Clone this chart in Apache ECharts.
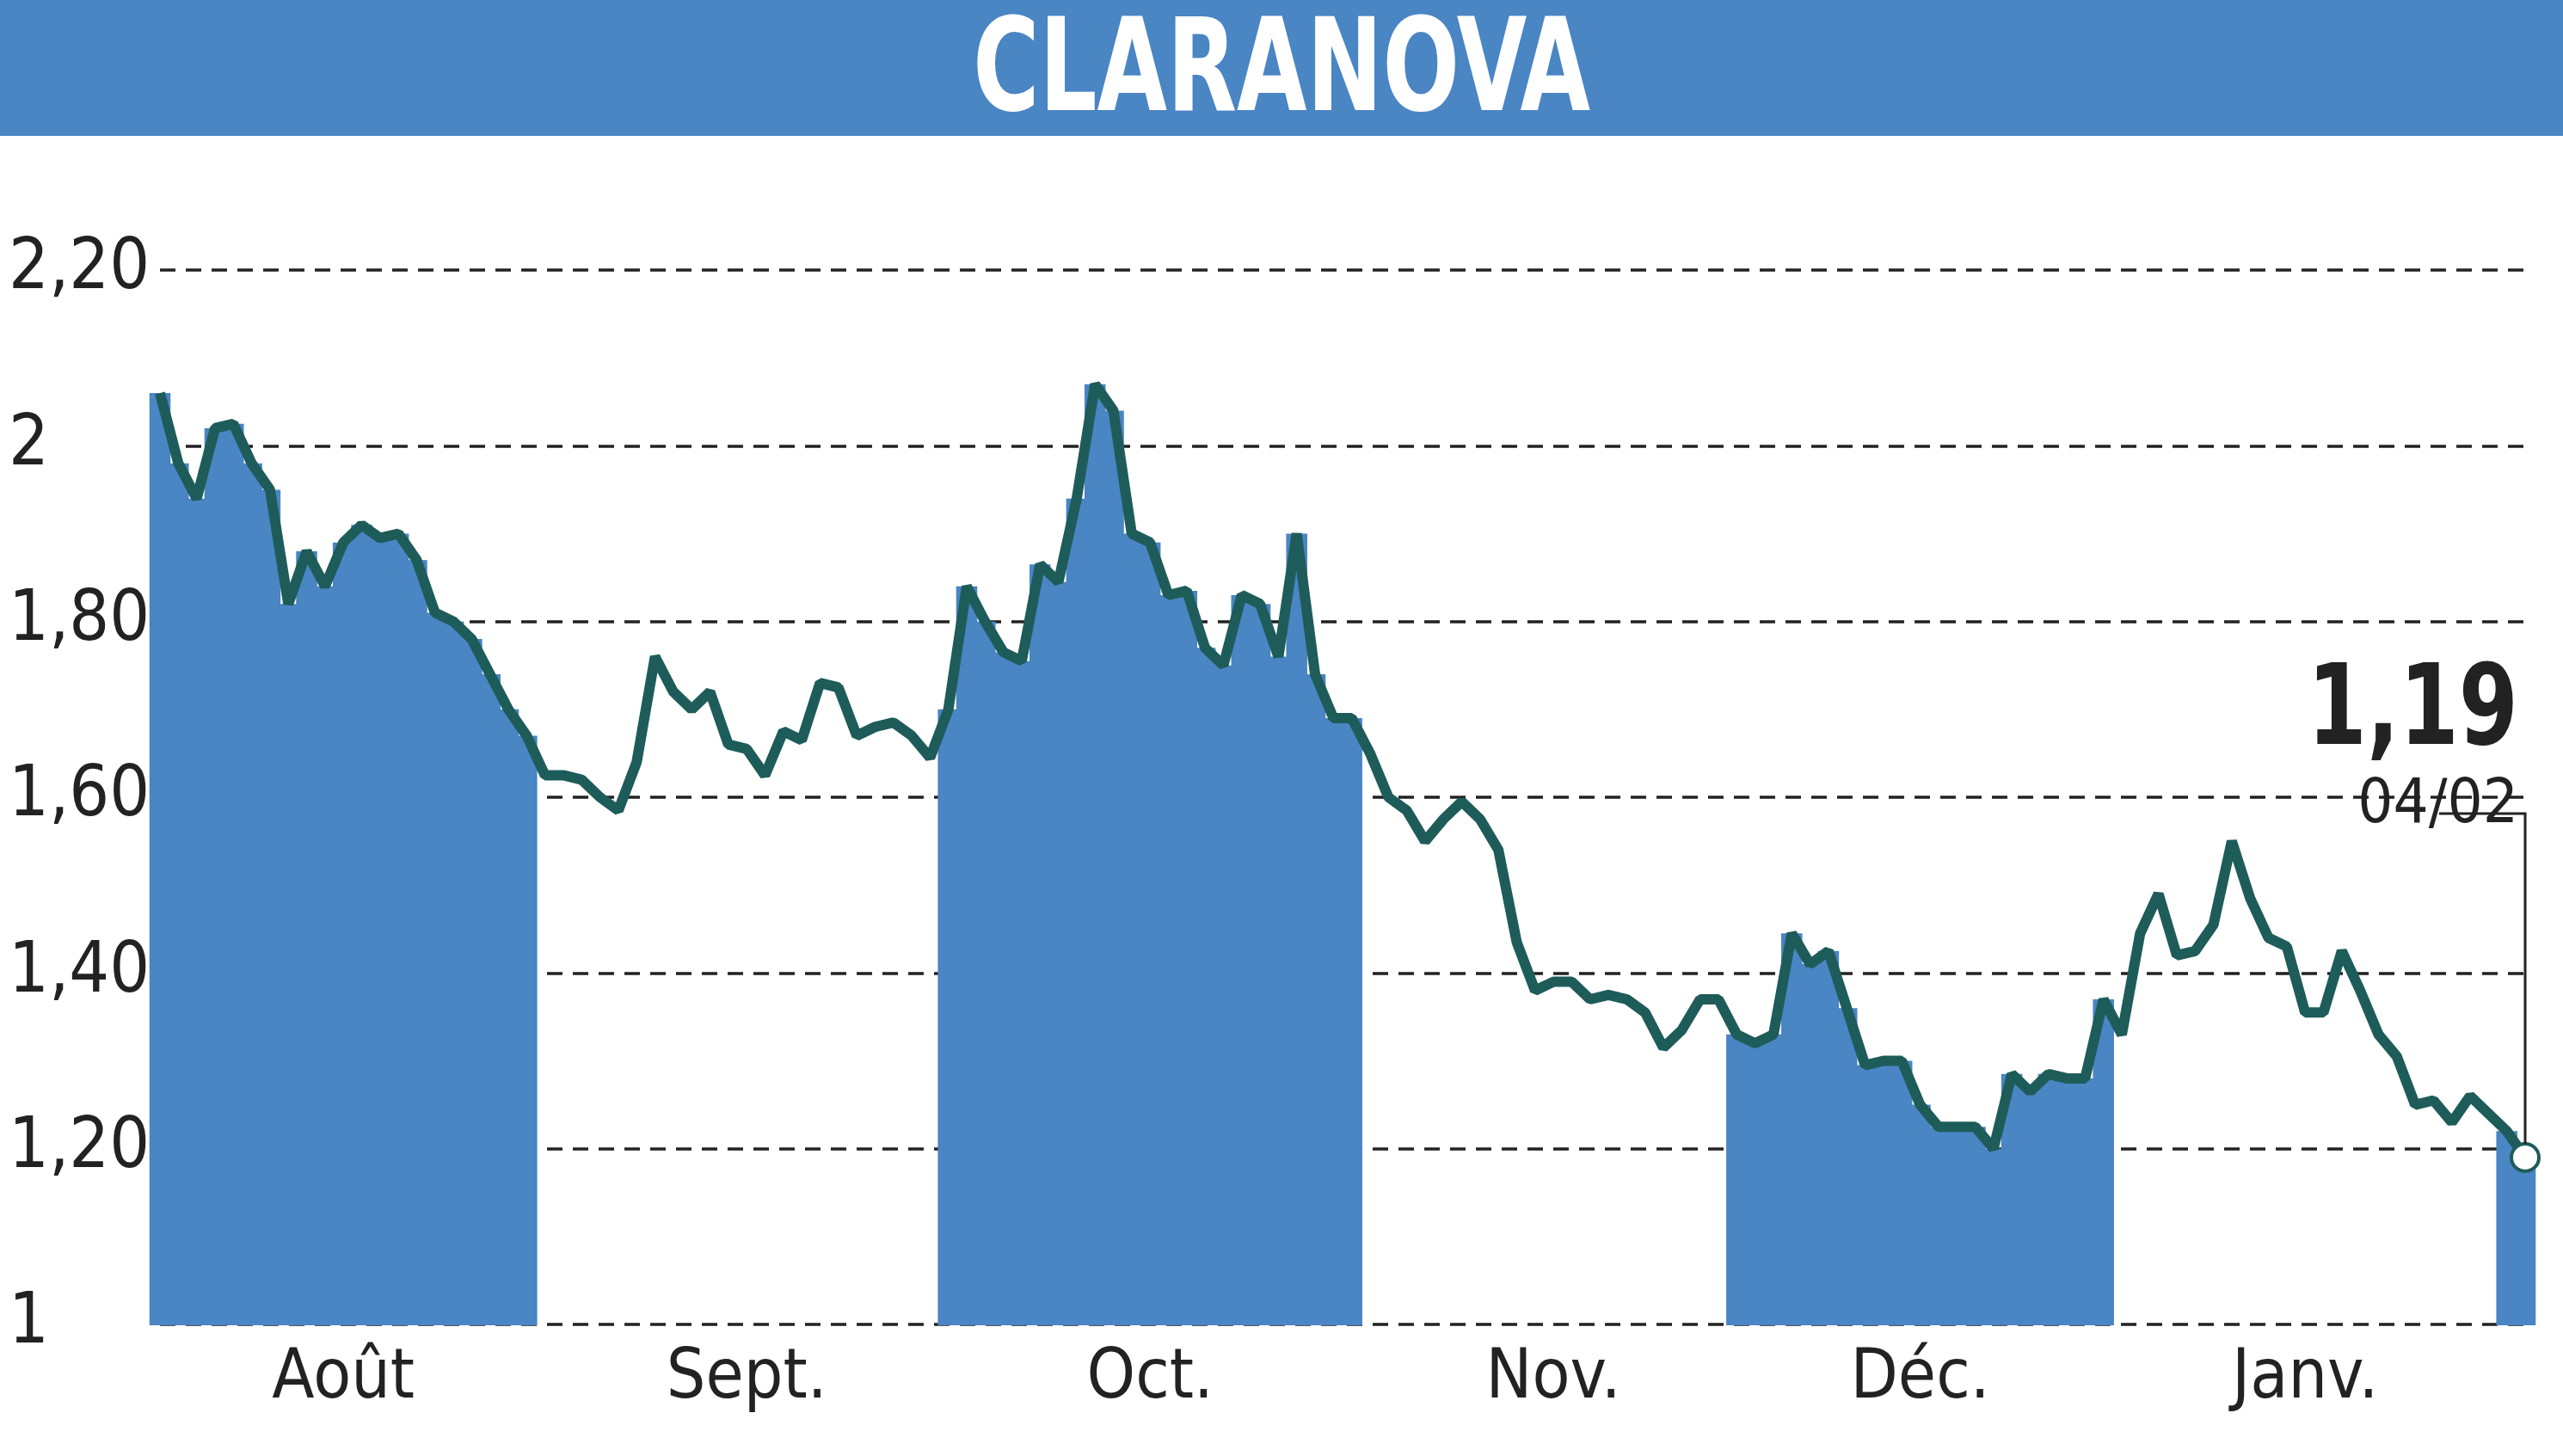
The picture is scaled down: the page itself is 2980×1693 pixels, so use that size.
<!DOCTYPE html><html><head><meta charset="utf-8">
<script src="https://cdn.jsdelivr.net/npm/echarts@6/dist/echarts.min.js"></script>
<style>html,body{margin:0;padding:0;background:#fff}#c{width:2980px;height:1693px}</style></head><body><div id="c"></div>
<script>
const months=['Août','Sept.','Oct.','Nov.','Déc.','Janv.','Févr.'];
const aug=[2.06,1.98,1.94,2.02,2.025,1.98,1.95,1.82,1.88,1.84,1.89,1.91,1.895,1.90,1.87,1.81,1.80,1.78,1.74,1.70,1.67];
const sep=[1.625,1.625,1.62,1.60,1.585,1.64,1.76,1.72,1.70,1.72,1.66,1.655,1.625,1.675,1.665,1.73,1.725,1.67,1.68,1.685,1.67,1.645];
const oct=[1.70,1.84,1.80,1.765,1.755,1.865,1.845,1.94,2.07,2.04,1.90,1.89,1.83,1.835,1.77,1.75,1.83,1.82,1.76,1.90,1.74,1.69,1.69];
const nov=[1.65,1.60,1.585,1.55,1.575,1.595,1.575,1.54,1.435,1.38,1.39,1.39,1.37,1.375,1.37,1.355,1.315,1.335,1.37,1.37];
const dec=[1.33,1.32,1.33,1.445,1.41,1.425,1.36,1.295,1.30,1.30,1.25,1.225,1.225,1.225,1.20,1.285,1.265,1.285,1.28,1.28,1.37];
const jan=[1.33,1.445,1.49,1.42,1.425,1.455,1.55,1.485,1.44,1.43,1.355,1.355,1.425,1.38,1.33,1.305,1.25,1.255,1.23,1.26,1.24];
const feb=[1.22,1.19];
const yTicks={1:'1',1.2:'1,20',1.4:'1,40',1.6:'1,60',1.8:'1,80',2:'2',2.2:'2,20'};
const all=[aug,sep,oct,nov,dec,jan,feb];
const cats=[],vals=[],fills=[],mid={};
all.forEach((m,mi)=>{const s=vals.length;m.forEach((v,i)=>{cats.push(mi+'-'+i);vals.push(v);fills.push(mi%2===0?v:null);});if(mi<6)mid[s+Math.floor(m.length/2)]=months[mi];});
const n=vals.length;
const font='DejaVu Sans Condensed';
const chart=echarts.init(document.getElementById('c'));
chart.setOption({
 animation:false,
 grid:{left:186,right:44,top:314,bottom:153},
 xAxis:{type:'category',data:cats,boundaryGap:false,axisLine:{show:false},axisTick:{show:false},
  axisLabel:{interval:(i)=>mid[i]!==undefined,formatter:(v,i)=>mid[i]||'',color:'#222',fontSize:80,fontFamily:font,margin:24}},
 yAxis:{type:'value',min:1,max:2.2,interval:0.2,
  axisLabel:{formatter:v=>yTicks[Math.round(v*10)/10]||'',align:'left',margin:176,color:'#222',fontSize:82,fontFamily:font,verticalAlign:'middle'},
  splitLine:{lineStyle:{color:'#222',type:[18,12],width:3.5}},axisLine:{show:false},axisTick:{show:false}},
 series:[
  {type:'bar',data:fills,barWidth:'115%',barGap:'-100%',itemStyle:{color:'#4a85c4',borderColor:'#4a85c4',borderWidth:2},silent:true},
  {type:'line',data:vals.map((v,i)=>i===n-1?{value:v,symbol:'circle',symbolSize:32,itemStyle:{color:'#fff',borderColor:'#1e5c5a',borderWidth:4}}:v),
   symbol:'none',lineStyle:{color:'#1e5c5a',width:12},z:5}
 ]
});
const p=chart.convertToPixel({xAxisIndex:0,yAxisIndex:0},[n-1,feb[feb.length-1]]);
chart.setOption({graphic:[{type:'rect',shape:{x:0,y:0,width:2980,height:158},style:{fill:'#4a85c4'}},
  {type:'text',x:1490,y:14,scaleX:0.78,originX:0,style:{text:'CLARANOVA',fill:'#fff',font:'bold 150px "DejaVu Sans Condensed"',textAlign:'center'}},
  {type:'text',x:p[0]-8,y:p[1]-580,scaleX:0.85,originX:0,style:{text:'1,19',fill:'#222',font:'bold 130px "DejaVu Sans Condensed"',textAlign:'right'}},
  {type:'text',x:p[0]-8,y:p[1]-445,style:{text:'04/02',fill:'#222',font:'72px "DejaVu Sans Condensed"',textAlign:'right'}},
  {type:'polyline',shape:{points:[[p[0]-100,p[1]-400],[p[0],p[1]-400],[p[0],p[1]-16]]},style:{stroke:'#222',lineWidth:3,fill:null},z:10}]});
</script></body></html>
